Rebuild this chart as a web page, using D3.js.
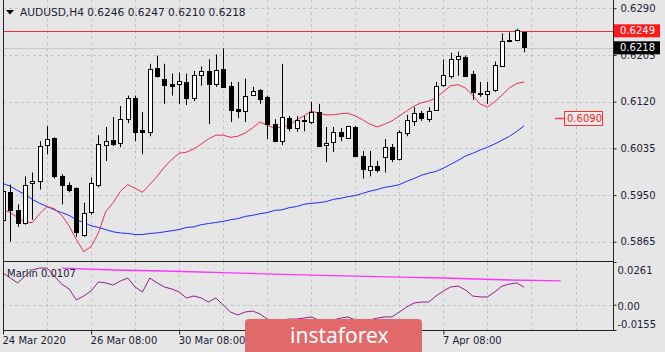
<!DOCTYPE html>
<html>
<head>
<meta charset="utf-8">
<script src="https://cdn.jsdelivr.net/npm/d3@7/dist/d3.min.js"></script>
<style>
  body { margin: 0; background: #e6e6e6; }
  svg { display: block; }
</style>
</head>
<body>
<div id="chart"></div>
<script>
// AUDUSD H4 candles
var open  = [0.5905,0.5955,0.5923,0.5900,0.5971,0.5975,0.6041,0.6054,0.5984,0.5968,0.5962,0.5878,0.5918,0.5968,0.6041,0.6050,0.6045,0.6088,0.6127,0.6068,
             0.6065,0.6182,0.6162,0.6153,0.6153,0.6156,0.6127,0.6167,0.6175,0.6153,0.6180,0.6149,0.6107,0.6103,0.6132,0.6142,0.6129,0.6079,0.6048,0.6090,
             0.6072,0.6084,0.6083,0.6101,0.6041,0.6046,0.6065,0.6055,0.6074,0.6021,0.5995,0.6002,0.6019,0.6037,0.6015,0.6063,0.6085,0.6099,0.6088,0.6105,
             0.6151,0.6167,0.6198,0.6202,0.6171,0.6136,0.6134,0.6140,0.6184,0.6232,0.6231,0.6246];
var high  = [0.5969,0.5969,0.5933,0.5984,0.5991,0.6048,0.6076,0.6055,0.5988,0.5973,0.5964,0.5936,0.5982,0.6059,0.6074,0.6092,0.6112,0.6131,0.6131,0.6101,
             0.6189,0.6204,0.6189,0.6171,0.6173,0.6171,0.6176,0.6184,0.6197,0.6206,0.6217,0.6156,0.6156,0.6162,0.6147,0.6143,0.6131,0.6088,0.6189,0.6094,
             0.6094,0.6094,0.6120,0.6116,0.6074,0.6074,0.6072,0.6076,0.6076,0.6030,0.6030,0.6012,0.6052,0.6043,0.6068,0.6096,0.6110,0.6103,0.6110,0.6156,
             0.6197,0.6209,0.6211,0.6204,0.6176,0.6156,0.6156,0.6193,0.6244,0.6246,0.6253,0.6247];
var low   = [0.5902,0.5865,0.5892,0.5896,0.5905,0.5960,0.6024,0.5980,0.5933,0.5955,0.5874,0.5874,0.5914,0.5964,0.6012,0.6039,0.6037,0.6081,0.6048,0.6024,
             0.6057,0.6164,0.6116,0.6131,0.6116,0.6114,0.6121,0.6149,0.6079,0.6147,0.6145,0.6083,0.6090,0.6083,0.6131,0.6116,0.6052,0.6046,0.6041,0.6066,
             0.6065,0.6066,0.6079,0.6037,0.6010,0.6028,0.6048,0.6052,0.6019,0.5980,0.5984,0.5991,0.5991,0.6010,0.6013,0.6057,0.6076,0.6085,0.6083,0.6103,
             0.6147,0.6162,0.6167,0.6165,0.6123,0.6129,0.6116,0.6138,0.6184,0.6228,0.6230,0.6210];
var close = [0.5957,0.5922,0.5900,0.5969,0.5975,0.6039,0.6052,0.5984,0.5968,0.5958,0.5881,0.5918,0.5971,0.6043,0.6048,0.6043,0.6088,0.6127,0.6065,0.6065,
             0.6180,0.6167,0.6151,0.6149,0.6158,0.6127,0.6169,0.6175,0.6151,0.6178,0.6147,0.6105,0.6103,0.6131,0.6140,0.6125,0.6079,0.6048,0.6092,0.6072,
             0.6087,0.6086,0.6101,0.6039,0.6045,0.6065,0.6057,0.6076,0.6021,0.5997,0.6002,0.5995,0.6037,0.6015,0.6065,0.6087,0.6099,0.6090,0.6103,0.6149,
             0.6169,0.6198,0.6204,0.6167,0.6138,0.6135,0.6140,0.6186,0.6230,0.6233,0.6250,0.6218];

// moving averages (red = fast, blue = slow)
var maFast = [0.5923,0.5918,0.5909,0.5900,0.5900,0.5916,0.5929,0.5925,0.5913,0.5894,0.5869,0.5847,0.5856,0.5881,0.5920,0.5936,0.5957,0.5969,0.5962,0.5955,
              0.5969,0.5984,0.6001,0.6015,0.6026,0.6028,0.6034,0.6043,0.6052,0.6059,0.6059,0.6055,0.6057,0.6063,0.6072,0.6083,0.6077,0.6072,0.6074,0.6077,
              0.6087,0.6094,0.6103,0.6099,0.6096,0.6096,0.6098,0.6099,0.6094,0.6087,0.6079,0.6074,0.6079,0.6085,0.6094,0.6103,0.6112,0.6118,0.6121,0.6127,
              0.6138,0.6149,0.6151,0.6145,0.6131,0.6116,0.6110,0.6120,0.6132,0.6145,0.6153,0.6156];
var maSlow = [0.5971,0.5966,0.5958,0.5951,0.5942,0.5935,0.5929,0.5923,0.5918,0.5913,0.5905,0.5900,0.5894,0.5891,0.5887,0.5883,0.5881,0.5880,0.5878,0.5878,
              0.5880,0.5881,0.5883,0.5885,0.5887,0.5891,0.5892,0.5896,0.5898,0.5900,0.5902,0.5905,0.5907,0.5911,0.5913,0.5916,0.5918,0.5922,0.5923,0.5927,
              0.5929,0.5933,0.5935,0.5936,0.5938,0.5942,0.5944,0.5947,0.5949,0.5953,0.5957,0.5960,0.5964,0.5966,0.5969,0.5975,0.5980,0.5986,0.5990,0.5993,
              0.5999,0.6006,0.6013,0.6021,0.6026,0.6032,0.6037,0.6043,0.6050,0.6057,0.6066,0.6076];

// Marlin oscillator
var marlin = [0.0194,0.0163,0.0133,0.0175,0.0212,0.0224,0.0224,0.0175,0.0126,0.0096,0.0029,0.0053,0.0084,0.0139,0.0133,0.0120,0.0145,0.0163,0.0108,0.0078,
              0.0163,0.0133,0.0108,0.0096,0.0078,0.0041,0.0053,0.0041,0.0016,0.0041,-0.0002,-0.0045,-0.0063,-0.0045,-0.0039,-0.0057,-0.0088,-0.0106,-0.0094,-0.0088,
              -0.0088,-0.0082,-0.0075,-0.0094,-0.0106,-0.0094,-0.0082,-0.0075,-0.0094,-0.0106,-0.0094,-0.0082,-0.0075,-0.0075,-0.0045,-0.0014,0.0010,0.0016,0.0016,0.0053,
              0.0084,0.0108,0.0114,0.0090,0.0053,0.0047,0.0047,0.0078,0.0114,0.0126,0.0133,0.0107];
var signalIdx = [8, 15, 22, 31, 42, 54, 60, 69, 76];
var signalVal = [0.0224, 0.0212, 0.0206, 0.0194, 0.0181, 0.0169, 0.0163, 0.0151, 0.0145];

var priceTicks = [0.6290, 0.6205, 0.6120, 0.6035, 0.5950, 0.5865];
var marlinTicks = [0.0261, 0, -0.0155];
var marlinTickText = ["0.0261", "0.00", "-0.0155"];
// the 1 Apr and 3 Apr labels sit under the watermark, so they are left out
var timeIdx = [0, 12, 24, 60];
var timeText = ["24 Mar 2020", "26 Mar 08:00", "30 Mar 08:00", "7 Apr 08:00"];
var gridIdx = [6, 12, 18, 24, 30, 36, 42, 48, 54, 60, 66, 72, 78];
var symbol = "AUDUSD,H4";
var levelLine = 0.6249;
var maLabel = 0.6090;

var W = 665, H = 352;
var left = 3, right = 613, mainTop = 0, mainBottom = 261, subTop = 262, subBottom = 330;
var font = "DejaVu Sans";

var svg = d3.select("#chart").append("svg")
  .attr("width", W).attr("height", H);

svg.append("rect").attr("width", W).attr("height", H).attr("fill", "#e6e6e6");

var x = d3.scaleLinear().domain([0, 83]).range([3, 612.2]);
var y = d3.scaleLinear().domain([0.5865, 0.6290]).range([241.7, 8.3]);
var ym = d3.scaleLinear().domain([-0.0155, 0.0261]).range([subBottom, subTop]);

var defs = svg.append("defs");
defs.append("clipPath").attr("id", "clipMain").append("rect")
  .attr("x", left).attr("y", mainTop).attr("width", right - left).attr("height", mainBottom - mainTop);
defs.append("clipPath").attr("id", "clipSub").append("rect")
  .attr("x", left).attr("y", subTop).attr("width", right - left).attr("height", subBottom - subTop);

var gMain = svg.append("g").attr("clip-path", "url(#clipMain)");
var gSub = svg.append("g").attr("clip-path", "url(#clipSub)");

var px = function(v) { return Math.round(v) + 0.5; };

// grid
gMain.selectAll(".hgrid").data(priceTicks).enter().append("line")
  .attr("x1", left).attr("x2", right)
  .attr("y1", function(d) { return px(y(d)); }).attr("y2", function(d) { return px(y(d)); })
  .attr("stroke", "#c4c4c4").attr("stroke-dasharray", "3,3");
gMain.selectAll(".vgrid").data(gridIdx).enter().append("line")
  .attr("x1", function(d) { return px(x(d)); }).attr("x2", function(d) { return px(x(d)); })
  .attr("y1", mainTop).attr("y2", mainBottom)
  .attr("stroke", "#c4c4c4").attr("stroke-dasharray", "3,3");
gSub.selectAll(".vgrid").data(gridIdx).enter().append("line")
  .attr("x1", function(d) { return px(x(d)); }).attr("x2", function(d) { return px(x(d)); })
  .attr("y1", subTop).attr("y2", subBottom)
  .attr("stroke", "#c4c4c4").attr("stroke-dasharray", "3,3");
gSub.append("line")
  .attr("x1", left).attr("x2", right).attr("y1", px(ym(0))).attr("y2", px(ym(0)))
  .attr("stroke", "#c4c4c4").attr("stroke-dasharray", "3,3");

// bid line and level line
var last = close.length - 1;
gMain.append("line").attr("x1", left).attr("x2", right)
  .attr("y1", px(y(close[last]))).attr("y2", px(y(close[last])))
  .attr("stroke", "#c8c8c8");
gMain.append("line").attr("x1", left).attr("x2", right)
  .attr("y1", px(y(levelLine))).attr("y2", px(y(levelLine)))
  .attr("stroke", "#e8303a");

// moving averages
var lineMain = function(arr) {
  return d3.line().x(function(d, i) { return x(i); }).y(function(d) { return y(d); })(arr);
};
gMain.append("path").attr("d", lineMain(maSlow))
  .attr("fill", "none").attr("stroke", "#1f2bff").attr("stroke-width", 1);
gMain.append("path").attr("d", lineMain(maFast))
  .attr("fill", "none").attr("stroke", "#e8304e").attr("stroke-width", 1);

// candles
var candles = gMain.selectAll(".candle").data(close).enter().append("g");
candles.append("line")
  .attr("x1", function(d, i) { return px(x(i)); }).attr("x2", function(d, i) { return px(x(i)); })
  .attr("y1", function(d, i) { return y(high[i]); }).attr("y2", function(d, i) { return y(low[i]); })
  .attr("stroke", "#000");
candles.append("rect")
  .attr("x", function(d, i) { return Math.round(x(i)) - 1.5; })
  .attr("width", 4)
  .attr("y", function(d, i) { return Math.round(y(Math.max(open[i], close[i]))) + 0.5; })
  .attr("height", function(d, i) { return Math.max(1, Math.round(Math.abs(y(open[i]) - y(close[i])))); })
  .attr("fill", function(d, i) { return close[i] >= open[i] ? "#ffffff" : "#000000"; })
  .attr("stroke", "#000");

// Marlin subwindow
gSub.append("path")
  .attr("d", d3.line().x(function(d, i) { return x(signalIdx[i]); }).y(function(d) { return ym(d); })(signalVal))
  .attr("fill", "none").attr("stroke", "#ff33ff").attr("stroke-width", 1.3);
gSub.append("path")
  .attr("d", d3.line().x(function(d, i) { return x(i); }).y(function(d) { return ym(d); })(marlin))
  .attr("fill", "none").attr("stroke", "#8e1e8e").attr("stroke-width", 1);

// frames
svg.append("line").attr("x1", left + 0.5).attr("x2", left + 0.5).attr("y1", 0).attr("y2", subBottom).attr("stroke", "#222");
svg.append("line").attr("x1", right + 0.5).attr("x2", right + 0.5).attr("y1", 0).attr("y2", subBottom + 1).attr("stroke", "#222");
svg.append("line").attr("x1", left).attr("x2", right).attr("y1", mainBottom + 0.5).attr("y2", mainBottom + 0.5).attr("stroke", "#222");
svg.append("line").attr("x1", left).attr("x2", right).attr("y1", subBottom + 0.5).attr("y2", subBottom + 0.5).attr("stroke", "#222");

// price axis
var yAxis = svg.append("g").attr("transform", "translate(" + (right + 0.5) + ",0)")
  .call(d3.axisRight(y).tickValues(priceTicks).tickSize(3).tickPadding(4).tickFormat(d3.format(".4f")));
var mAxis = svg.append("g").attr("transform", "translate(" + (right + 0.5) + ",0)")
  .call(d3.axisRight(ym).tickValues(marlinTicks).tickSize(3).tickPadding(1)
    .tickFormat(function(d, i) { return marlinTickText[i]; }));
mAxis.selectAll(".tick text")
  .attr("dy", function(d, i) { return i == 0 ? "1.15em" : (i == 2 ? "-0.3em" : "0.45em"); });
var xAxis = svg.append("g").attr("transform", "translate(0," + (subBottom + 0.5) + ")")
  .call(d3.axisBottom(x).tickValues(timeIdx).tickSize(4).tickPadding(2)
    .tickFormat(function(d, i) { return timeText[i]; }));
xAxis.selectAll(".tick text").attr("text-anchor", "start").attr("dx", "-1");

svg.selectAll(".domain").remove();
svg.selectAll(".tick line").attr("stroke", "#222");
svg.selectAll(".tick text")
  .style("font-family", font).style("font-size", "10px").attr("fill", "#1c1c34");

// price tags
var tag = function(v, fill, textFill) {
  svg.append("rect").attr("x", right + 1).attr("y", y(v) - 6.5).attr("width", 46).attr("height", 13).attr("fill", fill);
  svg.append("text").attr("x", right + 7).attr("y", y(v)).attr("dy", "0.35em")
    .style("font-family", font).style("font-size", "10px").attr("fill", textFill)
    .text(d3.format(".4f")(v));
};
tag(levelLine, "#ff1a1a", "#ffffff");
tag(close[last], "#000000", "#ffffff");

// MA value label
svg.append("line").attr("x1", 555).attr("x2", 564).attr("y1", px(y(maLabel))).attr("y2", px(y(maLabel)))
  .attr("stroke", "#ff4040").attr("stroke-width", 1.5);
svg.append("rect").attr("x", 564.5).attr("y", Math.round(y(maLabel)) - 6.5).attr("width", 38).attr("height", 14)
  .attr("fill", "#ececec").attr("stroke", "#ff3030");
svg.append("text").attr("x", 567).attr("y", y(maLabel)).attr("dy", "0.38em")
  .style("font-family", font).style("font-size", "10px").attr("fill", "#ff2020")
  .text(d3.format(".4f")(maLabel));

// header
svg.append("path").attr("d", "M6,10 L14,10 L10,14.5 Z").attr("fill", "#000");
svg.append("text").attr("x", 20).attr("y", 16)
  .style("font-family", font).style("font-size", "10.6px").attr("fill", "#1c1c34")
  .text(symbol + "  " + [open[last], high[last], low[last], close[last]].map(d3.format(".4f")).join(" "));

svg.append("text").attr("x", 7).attr("y", 277)
  .style("font-family", font).style("font-size", "10px").attr("fill", "#1c1c34")
  .text("Marlin " + d3.format(".4f")(marlin[last]));

// watermark
svg.append("rect").attr("x", 245).attr("y", 319).attr("width", 177).attr("height", 45).attr("rx", 4)
  .attr("fill", "#e36a6a");
svg.append("text").attr("x", 290).attr("y", 343)
  .style("font-family", "Noto Sans").style("font-size", "21px").attr("fill", "#ffffff")
  .text("instaforex");
</script>
</body>
</html>
